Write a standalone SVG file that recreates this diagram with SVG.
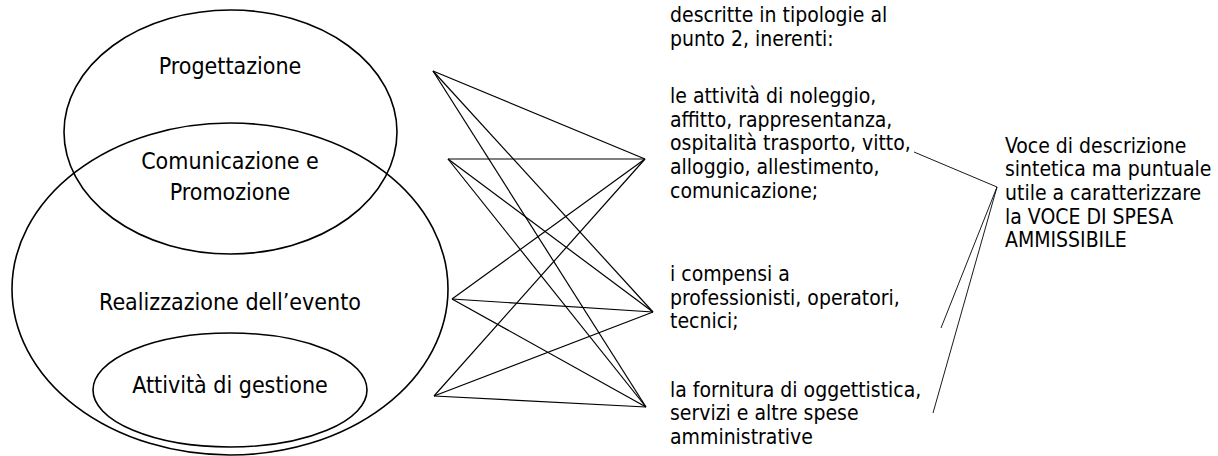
<svg xmlns="http://www.w3.org/2000/svg" width="1218" height="456" viewBox="0 0 1218 456">
<style>
text{font-family:"DejaVu Sans Condensed","DejaVu Sans",sans-serif;font-stretch:condensed;font-size:21px;fill:#000}
.c{text-anchor:middle;font-size:23px}
.sh{fill:none;stroke:#000;stroke-width:1.6}
.ln{stroke:#000;stroke-width:1.2;fill:none}
.th{stroke:#000;stroke-width:0.9;fill:none}
</style>
<rect width="1218" height="456" fill="#fff"/>
<g id="realizzazione">
<ellipse class="sh" cx="230" cy="289" rx="218" ry="166"/>
<text class="c" x="230" y="310">Realizzazione dell’evento</text>
</g>
<g id="progettazione">
<ellipse class="sh" cx="230.5" cy="132" rx="166.5" ry="122"/>
<text class="c" x="230" y="74">Progettazione</text>
</g>
<g id="comunicazione">
<text class="c" x="230" y="169">Comunicazione e</text>
<text class="c" x="230" y="200">Promozione</text>
</g>
<g id="gestione">
<ellipse class="sh" cx="230" cy="390" rx="137" ry="57"/>
<text class="c" x="230" y="393">Attività di gestione</text>
</g>
<g id="connectors">
<line class="ln" x1="433" y1="71" x2="645" y2="159"/>
<line class="ln" x1="433" y1="71" x2="653" y2="312"/>
<line class="ln" x1="433" y1="71" x2="646" y2="407"/>
<line class="ln" x1="448" y1="159" x2="645" y2="159"/>
<line class="ln" x1="448" y1="159" x2="653" y2="312"/>
<line class="ln" x1="448" y1="159" x2="646" y2="407"/>
<line class="ln" x1="452" y1="299" x2="645" y2="159"/>
<line class="ln" x1="452" y1="299" x2="653" y2="312"/>
<line class="ln" x1="452" y1="299" x2="646" y2="407"/>
<line class="ln" x1="434" y1="396" x2="645" y2="159"/>
<line class="ln" x1="434" y1="396" x2="653" y2="312"/>
<line class="ln" x1="434" y1="396" x2="646" y2="407"/>
<line class="th" x1="914" y1="152" x2="997" y2="187"/>
<line class="th" x1="997" y1="187" x2="941" y2="328"/>
<line class="th" x1="997" y1="187" x2="933" y2="413"/>
</g>
<g id="tipologie">
<text x="670" y="22">descritte in tipologie al</text>
<text x="670" y="46">punto 2, inerenti:</text>
</g>
<g id="attivita">
<text x="670" y="103">le attività di noleggio,</text>
<text x="670" y="127">affitto, rappresentanza,</text>
<text x="670" y="150">ospitalità trasporto, vitto,</text>
<text x="670" y="174">alloggio, allestimento,</text>
<text x="670" y="198">comunicazione;</text>
</g>
<g id="compensi">
<text x="670" y="281">i compensi a</text>
<text x="670" y="305">professionisti, operatori,</text>
<text x="670" y="328">tecnici;</text>
</g>
<g id="fornitura">
<text x="670" y="397">la fornitura di oggettistica,</text>
<text x="670" y="420">servizi e altre spese</text>
<text x="670" y="444">amministrative</text>
</g>
<g id="voce">
<text x="1005" y="153">Voce di descrizione</text>
<text x="1005" y="176">sintetica ma puntuale</text>
<text x="1005" y="200">utile a caratterizzare</text>
<text x="1005" y="224">la VOCE DI SPESA</text>
<text x="1005" y="247">AMMISSIBILE</text>
</g>
</svg>
